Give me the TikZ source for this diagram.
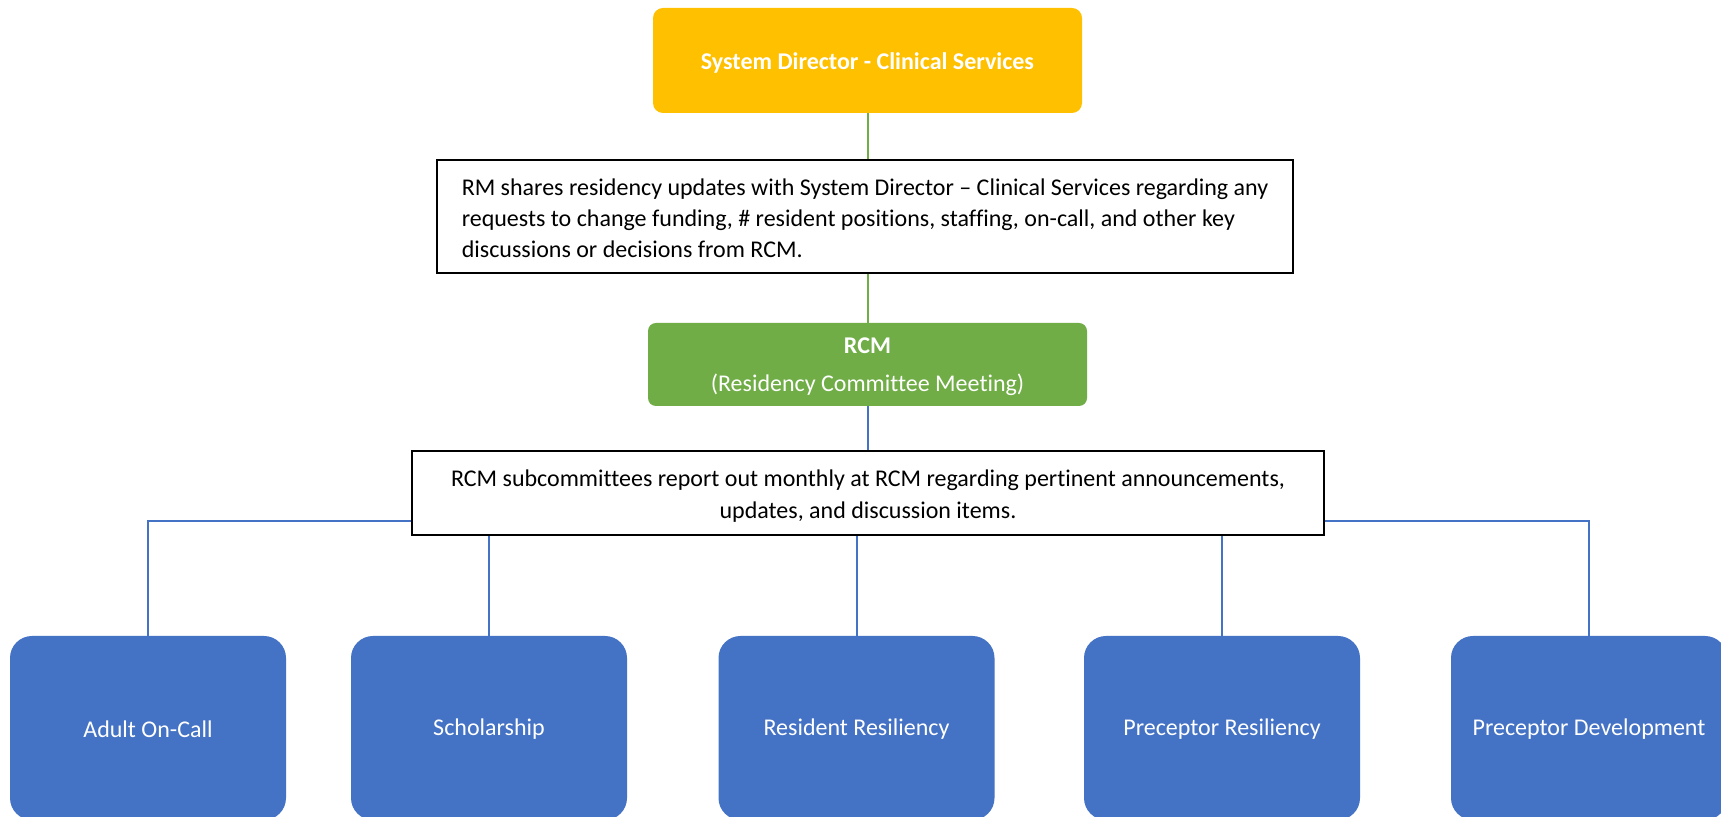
\documentclass[tikz,border=0pt]{standalone}
\usepackage{fontspec}
\setmainfont{Carlito}[Ligatures=NoCommon]
\usetikzlibrary{calc}

\definecolor{gold}{HTML}{FFC000}
\definecolor{leaf}{HTML}{70AD47}
\definecolor{royal}{HTML}{4472C4}

% invisible strut that sets the height of a first text line
\newcommand{\firstrow}[1]{\rule{0pt}{#1}}

\begin{document}
\begin{tikzpicture}[x=0.5pt, y=-0.5pt,
  headbox/.style={fill=gold, rounded corners=5pt, inner sep=0pt,
    minimum width=214.5pt, minimum height=52.5pt,
    text=white, font=\fontsize{12}{15}\selectfont\bfseries},
  notebox/.style={draw=black, line width=1pt, fill=white, inner sep=0pt},
  rcmbox/.style={fill=leaf, rounded corners=4pt, inner sep=0pt,
    minimum width=219.5pt, minimum height=41.5pt, align=center,
    text=white, font=\fontsize{12}{19}\selectfont},
  subbox/.style={fill=royal, rounded corners=11pt, inner sep=0pt,
    minimum width=138pt, minimum height=92pt,
    text=white, font=\fontsize{12}{15}\selectfont},
  greenline/.style={draw=leaf, line width=1pt},
  blueline/.style={draw=royal, line width=1pt}
]
\useasboundingbox (0,0) rectangle (1721,817);
\clip (0,0) rectangle (1721,817);
\fill[white] (0,0) rectangle (1721,817);

% top of the chain
\node[headbox] (top) at (867.5,60.5)
  {\firstrow{10.6pt}System Director - Clinical Services};

\node[notebox, minimum width=428pt, minimum height=56.5pt, align=left,
      font=\fontsize{12}{15.5}\selectfont]
  (note1) at (865,216.5)
  {\firstrow{10.4pt}RM shares residency updates with System Director -- Clinical Services regarding any\\
   requests to change funding, \# resident positions, staffing, on-call, and other key\\
   discussions or decisions from RCM.};

\node[rcmbox] (rcm) at (867.5,364.5)
  {\firstrow{10.3pt}\textbf{RCM}\\(Residency Committee Meeting)};

\node[notebox, minimum width=456pt, minimum height=42pt, align=center,
      font=\fontsize{12}{16}\selectfont]
  (note2) at (868,493)
  {\firstrow{11.4pt}RCM subcommittees report out monthly at RCM regarding pertinent announcements,\\
   updates, and discussion items.};

% subcommittees
\node[subbox] (c1) at (148,728)   {\firstrow{9.4pt}Adult On-Call};
\node[subbox] (c2) at (489,728)   {\firstrow{9.4pt}Scholarship};
\node[subbox] (c3) at (856.5,728) {\firstrow{9.4pt}Resident Resiliency};
\node[subbox] (c4) at (1222,728)  {\firstrow{9.4pt}Preceptor Resiliency};
\node[subbox] (c5) at (1589,728)  {\firstrow{9.4pt}Preceptor Development};

\coordinate (bar) at (0,521);

% connectors
\draw[greenline] (top.south) -- (top.south |- note1.north);
\draw[greenline] (top.south |- note1.south) -- (top.south |- rcm.north);
\draw[blueline] (rcm.south) -- (rcm.south |- note2.north);
\draw[blueline] (note2.west |- bar) -| (c1.north);
\draw[blueline] (note2.east |- bar) -| (c5.north);
\draw[blueline] (c2.north |- note2.south) -- (c2.north);
\draw[blueline] (c3.north |- note2.south) -- (c3.north);
\draw[blueline] (c4.north |- note2.south) -- (c4.north);
\end{tikzpicture}
\end{document}
